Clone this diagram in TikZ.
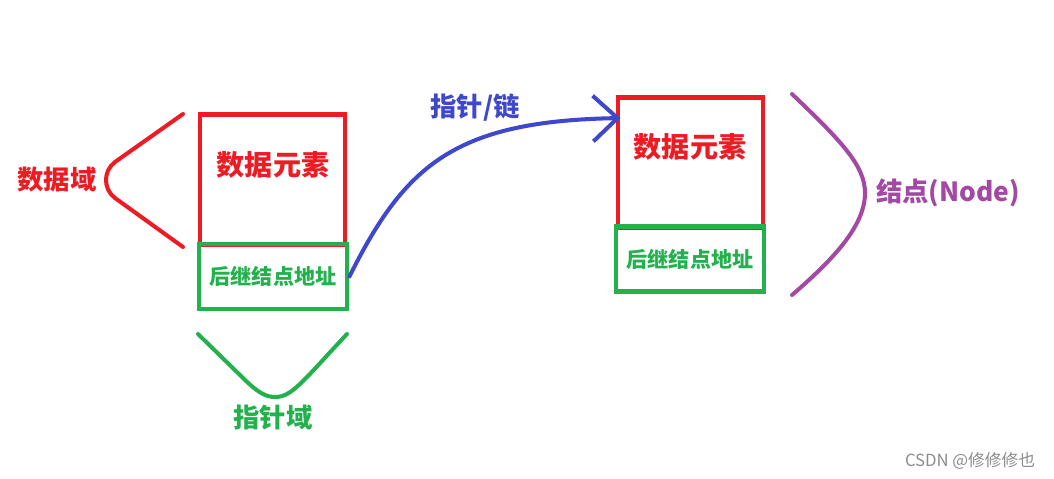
\documentclass[tikz,border=0pt]{standalone}
\usepackage{fontspec}
\setmainfont{Noto Sans CJK SC}
\usepackage{xcolor}
\usepackage{tikz}
\usetikzlibrary{arrows.meta}
\definecolor{paintred}{HTML}{ED1C24}
\definecolor{paintgreen}{HTML}{22B14C}
\definecolor{paintblue}{HTML}{3F48CC}
\definecolor{paintpurple}{HTML}{A349A4}
\tikzstyle{databox} = [draw=paintred, line width=2.8pt, minimum width=2.9cm, minimum height=2.6cm]
\tikzstyle{nextbox} = [draw=paintgreen, line width=2.8pt, minimum width=2.96cm, minimum height=1.3cm, text=paintgreen, font=\bfseries\fontsize{12pt}{12pt}\selectfont]
\tikzstyle{bigtext} = [font=\bfseries\fontsize{16pt}{16pt}\selectfont]
\tikzstyle{brace} = [line width=2.3pt, line cap=round]
\tikzstyle{arrow} = [line width=2.3pt, line cap=round, -{Straight Barb[length=14pt,width=26pt]}]

\begin{document}
\begin{tikzpicture}[x=0.02cm, y=-0.02cm]
\useasboundingbox (0,0) rectangle (1054,478);
% first node
\node[databox] (elem1) at (272.5,179.5) {};
\node[bigtext, text=paintred] (elem1text) at (273,165) {数据元素};
\node[nextbox] (next1) at (273,276.5) {后继结点地址};
% second node
\node[databox] (elem2) at (690.5,162.5) {};
\node[bigtext, text=paintred] (elem2text) at (690,147) {数据元素};
\node[nextbox] (next2) at (690,259) {后继结点地址};
% pointer
\draw[arrow, paintblue] (next1.east) .. controls (405,165) and (455,121) .. ([xshift=0.1cm, yshift=-0.46cm]elem2.north west);
\node[bigtext, text=paintblue, font=\bfseries\fontsize{15pt}{15pt}\selectfont] (ptr) at (475,108) {指针/链};
% braces
\draw[brace, paintred] (183,114) -- (115,162) .. controls (103,171) and (103,189) .. (115,198) -- (183,247);
\node[text=paintred, font=\bfseries\fontsize{15pt}{15pt}\selectfont] (datafield) at (57,180) {数据域};
\draw[brace, paintgreen] (198,334) -- (242,377) .. controls (258,393) and (266,397) .. (275,397) .. controls (292,397) and (302,382) .. (347,334);
\node[text=paintgreen, font=\bfseries\fontsize{15pt}{15pt}\selectfont] (ptrfield) at (273,418) {指针域};
\draw[brace, paintpurple] (792,94) .. controls (840,140) and (865,165) .. (865,193) .. controls (865,225) and (835,258) .. (792,295);
\node[text=paintpurple, font=\bfseries\fontsize{15pt}{15pt}\selectfont] (nodelabel) at (948,193) {结点(Node)};
\node[text=black!45, font=\fontsize{9.5pt}{9.5pt}\selectfont] (mark) at (970,461) {CSDN @修修修也};
\end{tikzpicture}
\end{document}
